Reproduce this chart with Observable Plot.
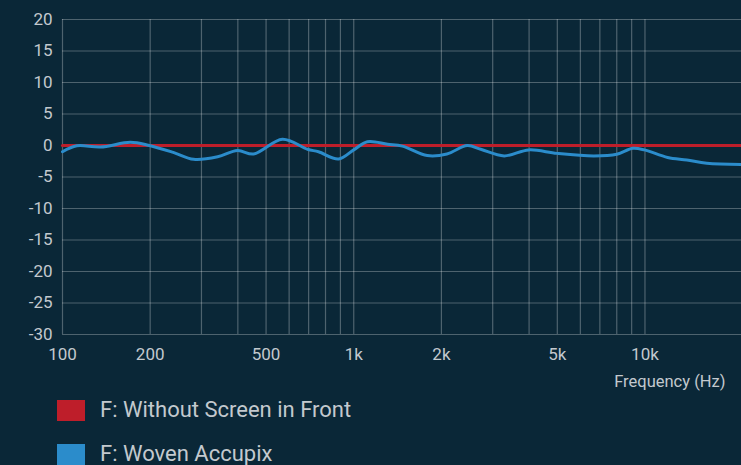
<!DOCTYPE html>
<html><head><meta charset="utf-8">
<script src="https://cdn.jsdelivr.net/npm/d3@7"></script>
<script src="https://cdn.jsdelivr.net/npm/@observablehq/plot@0.6"></script>
<style>
html,body{margin:0;padding:0;background:#0a2737;width:741px;height:465px;overflow:hidden;}
#chart{position:absolute;left:0;top:0;}
.leg{position:absolute;left:57px;font-family:Roboto,"Noto Sans",sans-serif;font-size:22px;line-height:26px;color:#c3c9ce;display:flex;align-items:center;}
.leg span.sw{display:inline-block;width:28px;height:21px;margin-right:15px;}
</style></head><body>
<div id="chart"></div>
<div class="leg" style="top:397px"><span class="sw" style="background:#be1e2a"></span>F: Without Screen in Front</div>
<div class="leg" style="top:441px"><span class="sw" style="background:#2b8ccb"></span>F: Woven Accupix</div>
<script>
const freqs = [100,112,135,171,197,240,282,341,399,453,569,694,757,887,1000,1114,1307,1469,1788,2089,2454,2730,3286,3990,4992,6666,8000,9087,9960,11960,13930,16300,21450];
const wovenDb = [-1.0,-0.05,-0.25,0.5,0.05,-1.1,-2.2,-1.8,-0.8,-1.35,1.0,-0.6,-1.0,-2.15,-0.7,0.6,0.2,-0.1,-1.6,-1.35,0.0,-0.6,-1.65,-0.7,-1.25,-1.65,-1.4,-0.45,-0.7,-1.9,-2.3,-2.8,-3.0];
const refFreqs = [100,21450];
const refDb = [0,0];
const xGrid = [100,200,300,400,500,600,700,800,900,1000,2000,3000,4000,5000,6000,7000,8000,9000,10000];
const xTicks = [100,200,500,1000,2000,5000,10000];
const xTickLabels = ["100","200","500","1k","2k","5k","10k"];
const yTicks = [-30,-25,-20,-15,-10,-5,0,5,10,15,20];

const woven = freqs.map((f,i)=>({f, db: wovenDb[i]}));
const ref = refFreqs.map((f,i)=>({f, db: refDb[i]}));
const xLabels = xTicks.map((f,i)=>({f, label: xTickLabels[i]}));
const gridColor = "rgba(255,255,255,0.28)";
const textColor = "#c3c9ce";

const plot = Plot.plot({
  width: 741, height: 395,
  marginLeft: 62, marginRight: 0, marginTop: 19, marginBottom: 61,
  style: {background: "transparent", color: textColor, fontFamily: "Roboto, 'Noto Sans', sans-serif", fontSize: "17px"},
  x: {type: "log", domain: [100, 21450], axis: null},
  y: {domain: [-30, 20]},
  marks: [
    Plot.ruleX(xGrid, {stroke: gridColor, strokeWidth: 1.2}),
    Plot.ruleY(yTicks, {stroke: gridColor, strokeWidth: 1.2}),
    Plot.text(xLabels, {x: "f", frameAnchor: "bottom", dy: 25, text: "label", fontSize: 17, fill: textColor}),
    Plot.axisY(yTicks, {tickSize: 0, tickPadding: 10, label: null, fontSize: 17, fill: textColor, tickFormat: d=>String(d)}),
    Plot.line(ref, {x: "f", y: "db", stroke: "#be1e2a", strokeWidth: 3.2}),
    Plot.line(woven, {x: "f", y: "db", stroke: "#2b8ccb", strokeWidth: 3, curve: "catmull-rom"}),
    Plot.text(["Frequency (Hz)"], {frameAnchor: "bottom-right", dx: -16, dy: 52, text: d=>d, fontSize: 16.5, fill: textColor, textAnchor: "end"})
  ]
});
document.getElementById("chart").appendChild(plot);
</script>
</body></html>
